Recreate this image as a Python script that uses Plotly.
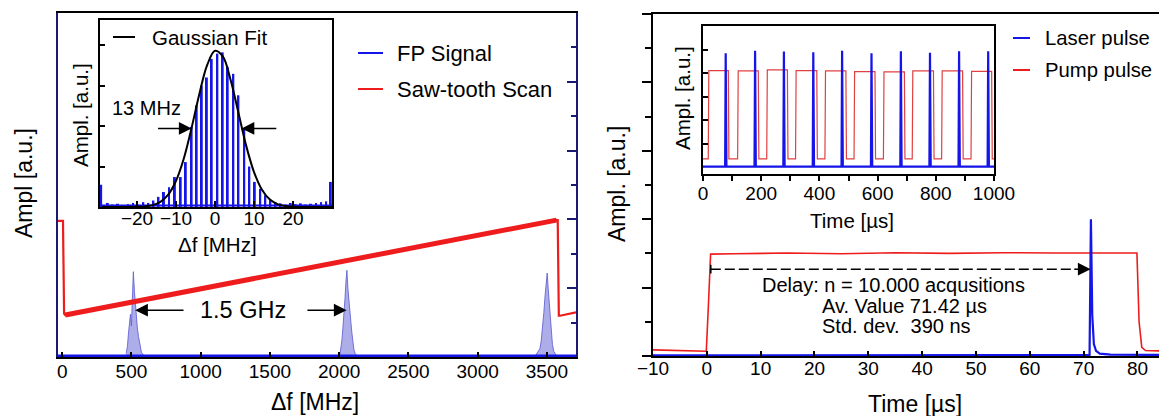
import plotly.graph_objects as go

W, H = 1159, 416
FONT = "Liberation Sans, Arial, Helvetica, sans-serif"

# ---------------- data: left main panel (FP scan) ----------------
peak1_f = [462, 471, 479, 486, 493, 500, 507, 514, 522, 529, 536, 543, 551, 558, 565, 572, 582, 592]
peak1_a = [0.05, 0.15, 0.35, 0.55, 0.62, 0.45, 0.90, 1.24, 0.95, 0.72, 0.60, 0.42, 0.30, 0.20, 0.12, 0.07, 0.04, 0.02]
peak2_f = [2006, 2013, 2020, 2027, 2035, 2042, 2049, 2056, 2063, 2071, 2078, 2085, 2092, 2099, 2107, 2116, 2126]
peak2_a = [0.04, 0.12, 0.25, 0.42, 0.60, 0.85, 1.10, 1.26, 1.00, 0.85, 0.65, 0.50, 0.35, 0.20, 0.10, 0.05, 0.02]
peak3_f = [3420, 3430, 3439, 3449, 3458, 3468, 3478, 3487, 3494, 3502, 3509, 3516, 3523, 3530, 3540, 3550, 3559, 3569]
peak3_a = [0.03, 0.06, 0.08, 0.12, 0.22, 0.40, 0.65, 0.90, 1.05, 1.22, 1.00, 0.78, 0.55, 0.35, 0.18, 0.08, 0.04, 0.02]
fp_base_f = [-30, 3710]
fp_base_a = [0.015, 0.015]

saw_f = [-30, 6, 14, 22, 3569, 3578, 3586, 3595, 3710]
saw_a = [1.98, 1.98, 0.63, 0.61, 1.99, 1.99, 0.60, 0.60, 0.65]
ramp_f = [22, 3569]
ramp_a = [0.61, 1.99]

# ---------------- data: left inset (single FP peak) ----------------
inset_f = [-29.2, -27.5, -26.2, -24.9, -23.6, -22.3, -21.0, -19.7, -18.4, -17.1, -15.8,
           -14.5, -13.1, -11.8, -10.3, -8.8, -7.5, -6.0, -4.7, -3.4, -2.1, -0.85,
           0.6, 1.97, 3.25, 4.7, 6.0, 7.5, 8.8, 10.2, 11.6, 12.9, 14.2,
           15.5, 16.8, 18.1, 19.4, 20.7, 22.0, 23.3, 24.6, 25.9, 27.2, 28.5, 29.7]
inset_a = [0.55, 0.10, 0.06, 0.08, 0.05, 0.07, 0.10, 0.06, 0.12, 0.10, 0.16,
           0.25, 0.37, 0.49, 0.74, 0.74, 1.11, 1.98, 2.51, 3.00, 3.20, 3.66,
           3.79, 3.82, 3.46, 3.29, 2.76, 1.93, 1.00, 0.62, 0.45, 0.29, 0.17,
           0.12, 0.09, 0.06, 0.10, 0.07, 0.09, 0.06, 0.08, 0.10, 0.12, 0.14, 0.62]
inset_base_f = [-29.5, 30]
inset_base_a = [0.04, 0.04]
fit_f = [-29, -24, -20, -18, -16, -14, -12, -10, -8, -6, -4, -2, 0, 2, 4, 6, 8, 10, 12, 14, 16, 18, 20, 24, 30]
fit_a = [0.0, 0.0002, 0.004, 0.015, 0.046, 0.126, 0.305, 0.648, 1.20, 1.96, 2.80, 3.51, 3.86,
         3.72, 3.14, 2.33, 1.51, 0.863, 0.432, 0.189, 0.073, 0.025, 0.007, 0.0003, 0.0]

# ---------------- data: right main panel (delay) ----------------
pump_t = [-10, -5, -0.1, 0.3, 0.7, 5, 15, 25, 35, 45, 55, 65, 72, 79.9, 80.3, 80.8, 81.5, 84]
pump_v = [0.18, 0.17, 0.14, 1.5, 2.98, 2.99, 3.01, 2.99, 3.02, 3.00, 3.02, 3.01, 3.00, 3.01, 1.00, 0.25, 0.16, 0.15]
laser_t = [-10, 71.1, 71.35, 71.6, 71.9, 72.3, 73, 75, 84]
laser_v = [0.02, 0.03, 4.0, 1.2, 0.35, 0.15, 0.07, 0.04, 0.03]

# ---------------- data: right inset (pulse trains) ----------------
pump_in_t = [0, 18, 20, 87, 89, 119, 121, 190, 192, 219, 221, 290, 292, 318, 320, 391, 393,
             419, 421, 491, 493, 519, 521, 591, 593, 620, 622, 692, 694, 719, 721, 792, 794,
             820, 822, 892, 894, 921, 923, 992, 994, 1000]
pump_in_v = [0.36, 0.36, 4.12, 4.12, 0.36, 0.36, 4.11, 4.11, 0.36, 0.36, 4.15, 4.15, 0.36,
             0.36, 4.12, 4.12, 0.36, 0.36, 4.11, 4.11, 0.36, 0.36, 4.08, 4.08, 0.36, 0.36,
             4.07, 4.07, 0.36, 0.36, 4.11, 4.11, 0.36, 0.36, 4.11, 4.11, 0.36, 0.36, 4.09,
             4.09, 0.36, 0.36]
laser_in_t = [0, 76, 78, 80.5, 177, 179, 181.5, 276, 278, 280.5, 377, 379, 381.5, 476, 478, 480.5,
              577, 579, 581.5, 678, 680, 682.5, 778, 780, 782.5, 878, 880, 882.5, 978, 980, 982.5, 1000]
laser_in_v = [0.03, 0.03, 4.86, 0.03, 0.03, 4.97, 0.03, 0.03, 4.93, 0.03, 0.03, 4.90, 0.03,
              0.03, 4.97, 0.03, 0.03, 4.86, 0.03, 0.03, 4.95, 0.03, 0.03, 4.88, 0.03, 0.03,
              4.95, 0.03, 0.03, 4.95, 0.03, 0.03]
inset_t_ticks = [0, 100, 200, 300, 400, 500, 600, 700, 800, 900, 1000]
inset_t_labels = ["0", "", "200", "", "400", "", "600", "", "800", "", "1000"]

BLUE = "#1515e8"
RED = "#ee1c1c"
PEAKFILL = "rgba(105,105,215,0.55)"
PEAKLINE = "rgba(95,95,210,0.85)"


def fx(p):
    return p / W


def fy(p):
    return 1 - p / H


fig = go.Figure()

# left main
for pf, pa in [(peak1_f, peak1_a), (peak2_f, peak2_a), (peak3_f, peak3_a)]:
    fig.add_trace(go.Scatter(x=pf, y=pa, mode="lines", fill="tozeroy", fillcolor=PEAKFILL,
                             line=dict(color=PEAKLINE, width=1), xaxis="x", yaxis="y",
                             showlegend=False, hoverinfo="skip"))
fig.add_trace(go.Scatter(x=fp_base_f, y=fp_base_a, mode="lines", name="FP Signal",
                         line=dict(color=BLUE, width=3), xaxis="x", yaxis="y"))
fig.add_trace(go.Scatter(x=saw_f, y=saw_a, mode="lines", name="Saw-tooth Scan",
                         line=dict(color=RED, width=2.2), xaxis="x", yaxis="y"))
fig.add_trace(go.Scatter(x=ramp_f, y=ramp_a, mode="lines", showlegend=False,
                         line=dict(color=RED, width=5), xaxis="x", yaxis="y"))

# left inset
fig.add_trace(go.Bar(x=inset_f, y=inset_a, width=0.5, marker=dict(color=BLUE, line=dict(width=0)),
                     xaxis="x2", yaxis="y2", showlegend=False))
fig.add_trace(go.Scatter(x=inset_base_f, y=inset_base_a, mode="lines", line=dict(color=BLUE, width=2),
                         xaxis="x2", yaxis="y2", showlegend=False))
fig.add_trace(go.Scatter(x=fit_f, y=fit_a, mode="lines", name="Gaussian Fit",
                         line=dict(color="black", width=2, shape="spline"), xaxis="x2", yaxis="y2"))

# right main
fig.add_trace(go.Scatter(x=pump_t, y=pump_v, mode="lines", name="Pump pulse",
                         line=dict(color=RED, width=1.6), xaxis="x3", yaxis="y3"))
fig.add_trace(go.Scatter(x=laser_t, y=laser_v, mode="lines", name="Laser pulse",
                         line=dict(color=BLUE, width=2.2), xaxis="x3", yaxis="y3"))

# right inset
fig.add_trace(go.Scatter(x=pump_in_t, y=pump_in_v, mode="lines", showlegend=False,
                         line=dict(color="#e04040", width=1.2), xaxis="x4", yaxis="y4"))
fig.add_trace(go.Scatter(x=laser_in_t, y=laser_in_v, mode="lines", showlegend=False,
                         line=dict(color=BLUE, width=2.2), xaxis="x4", yaxis="y4"))

tickfont = dict(family=FONT, size=19, color="black")
NAVY = "#1a1a70"

layout = dict(
    width=W, height=H, margin=dict(l=0, r=0, t=0, b=0, pad=0, autoexpand=False),
    paper_bgcolor="white", plot_bgcolor="white", showlegend=False,
    font=dict(family=FONT, color="black"),
    xaxis=dict(domain=[fx(58), fx(576)], range=[-30, 3710], anchor="y", automargin=False,
               tickvals=[0, 500, 1000, 1500, 2000, 2500, 3000, 3500], ticklabelstandoff=-4,
               ticks="inside", ticklen=5, tickwidth=1.5, tickcolor="black",
               showline=True, linecolor="black", linewidth=1.5, mirror=True,
               showgrid=False, zeroline=False, tickfont=tickfont),
    yaxis=dict(domain=[fy(357), fy(13)], range=[0, 5], anchor="x", side="right", automargin=False,
               dtick=1, ticks="inside", ticklen=9, tickwidth=1.5, tickcolor=NAVY,
               minor=dict(dtick=0.5, ticks="inside", ticklen=5, tickwidth=1.5, tickcolor=NAVY),
               showticklabels=False, showline=True, linecolor=NAVY, linewidth=1.5, mirror=True,
               showgrid=False, zeroline=False),
    xaxis2=dict(domain=[fx(100), fx(332)], range=[-29.5, 30], anchor="y2", automargin=False,
                tickvals=[-20, -10, 0, 10, 20], ticks="inside", ticklen=6, tickwidth=1.5,
                ticklabelstandoff=-7,
                tickcolor="black", showline=True, linecolor="black", linewidth=1.5, mirror=True,
                showgrid=False, zeroline=False, tickfont=tickfont),
    yaxis2=dict(domain=[fy(207), fy(20)], range=[0, 4.62], anchor="x2", automargin=False,
                tickvals=[1, 2, 3, 4], ticks="inside", ticklen=5, tickwidth=1.5, tickcolor="black",
                showticklabels=False, showline=True, linecolor="black", linewidth=1.5, mirror=True,
                showgrid=False, zeroline=False),
    xaxis3=dict(domain=[fx(653), 1.0], range=[-10, 84], anchor="y3", automargin=False,
                tickvals=[-10, 0, 10, 20, 30, 40, 50, 60, 70, 80], ticklabelstandoff=-6,
                ticks="inside", ticklen=5, tickwidth=1.5, tickcolor="black",
                showline=True, linecolor="black", linewidth=1.5, mirror=True,
                showgrid=False, zeroline=False, tickfont=tickfont),
    yaxis3=dict(domain=[fy(356), fy(14)], range=[0, 10], anchor="x3", automargin=False,
                dtick=2, ticks="outside", ticklen=9, tickwidth=1.5, tickcolor="black",
                minor=dict(dtick=1, ticks="outside", ticklen=6, tickwidth=1.5, tickcolor="black"),
                showticklabels=False, showline=True, linecolor="black", linewidth=1.5,
                showgrid=False, zeroline=False),
    xaxis4=dict(domain=[fx(703), fx(994)], range=[0, 1000], anchor="y4", automargin=False,
                tickvals=inset_t_ticks, ticktext=inset_t_labels, ticklabelstandoff=-4,
                ticks="outside", ticklen=5, tickwidth=1.5, tickcolor="black",
                showline=True, linecolor="black", linewidth=1.5, mirror=True,
                showgrid=False, zeroline=False, tickfont=tickfont),
    yaxis4=dict(domain=[fy(174), fy(26)], range=[-0.28, 6.02], anchor="x4", automargin=False,
                tickvals=[1, 2, 3, 4, 5], ticks="inside", ticklen=5, tickwidth=1.5, tickcolor="black",
                showticklabels=False, showline=True, linecolor="black", linewidth=1.5, mirror=True,
                showgrid=False, zeroline=False),
)
fig.update_layout(**layout)

annotations = []
shapes = []


def text(x, y, s, size, xanchor="center", angle=0):
    annotations.append(dict(x=fx(x), y=fy(y), xref="paper", yref="paper", text=s, showarrow=False,
                            xanchor=xanchor, yanchor="middle", textangle=angle,
                            font=dict(family=FONT, size=size, color="black")))


def legline(x0, x1, y, color, width=2):
    shapes.append(dict(type="line", xref="paper", yref="paper", x0=fx(x0), x1=fx(x1),
                       y0=fy(y), y1=fy(y), line=dict(color=color, width=width)))


# axis titles
text(315, 402, "Δf [MHz]", 23)
text(24, 183, "Ampl [a.u.]", 23, angle=-90)
text(217, 244, "Δf [MHz]", 20.5)
text(80, 115, "Ampl. [a.u.]", 20.5, angle=-90)
text(617, 184, "Ampl. [a.u.]", 23, angle=-90)
text(915, 404, "Time [µs]", 23)
text(852, 220, "Time [µs]", 20.5)
text(682, 98, "Ampl. [a.u.]", 20.5, angle=-90)

# legends
legline(358, 383, 53, BLUE)
text(395, 53, "FP Signal", 22, xanchor="left")
legline(358, 383, 89, RED)
text(395, 89, "Saw-tooth Scan", 22, xanchor="left")
legline(1013, 1030, 38, BLUE)
text(1043, 38, "Laser pulse", 20.3, xanchor="left")
legline(1013, 1030, 70, RED)
text(1043, 70, "Pump pulse", 20.3, xanchor="left")
legline(113, 135, 37, "black")
text(150, 37, "Gaussian Fit", 20.5, xanchor="left")

# other labels
text(146, 108, "13 MHz", 20)
text(243, 310, "1.5 GHz", 23.5)
text(760, 285, "Delay: n = 10.000 acqusitions", 20, xanchor="left")
text(820, 306, "Av. Value 71.42 µs", 20, xanchor="left")
text(820, 326, "Std. dev.\u00a0 390 ns", 20, xanchor="left")

# arrows
arrow_style = dict(showarrow=True, arrowhead=2, arrowsize=1.7, arrowwidth=1.5, arrowcolor="black", text="")
annotations.append(dict(x=527, y=0.68, ax=887, ay=0.68, xref="x", yref="y", axref="x", ayref="y", **arrow_style))
annotations.append(dict(x=2054, y=0.68, ax=1760, ay=0.68, xref="x", yref="y", axref="x", ayref="y", **arrow_style))
annotations.append(dict(x=-6.0, y=1.94, ax=-15.0, ay=1.94, xref="x2", yref="y2", axref="x2", ayref="y2", **arrow_style))
annotations.append(dict(x=6.8, y=1.94, ax=16.1, ay=1.94, xref="x2", yref="y2", axref="x2", ayref="y2", **arrow_style))
annotations.append(dict(x=71.3, y=2.54, ax=68.0, ay=2.54, xref="x3", yref="y3", axref="x3", ayref="y3", **arrow_style))

shapes.append(dict(type="line", xref="x3", yref="y3", x0=0.74, x1=68.5, y0=2.54, y1=2.54,
                   line=dict(color="black", width=1.5, dash="10px,4px")))
shapes.append(dict(type="line", xref="x3", yref="y3", x0=0.74, x1=0.74, y0=2.41, y1=2.67,
                   line=dict(color="black", width=1.5)))

fig.update_layout(annotations=annotations, shapes=shapes)
fig.write_html("out.html")
